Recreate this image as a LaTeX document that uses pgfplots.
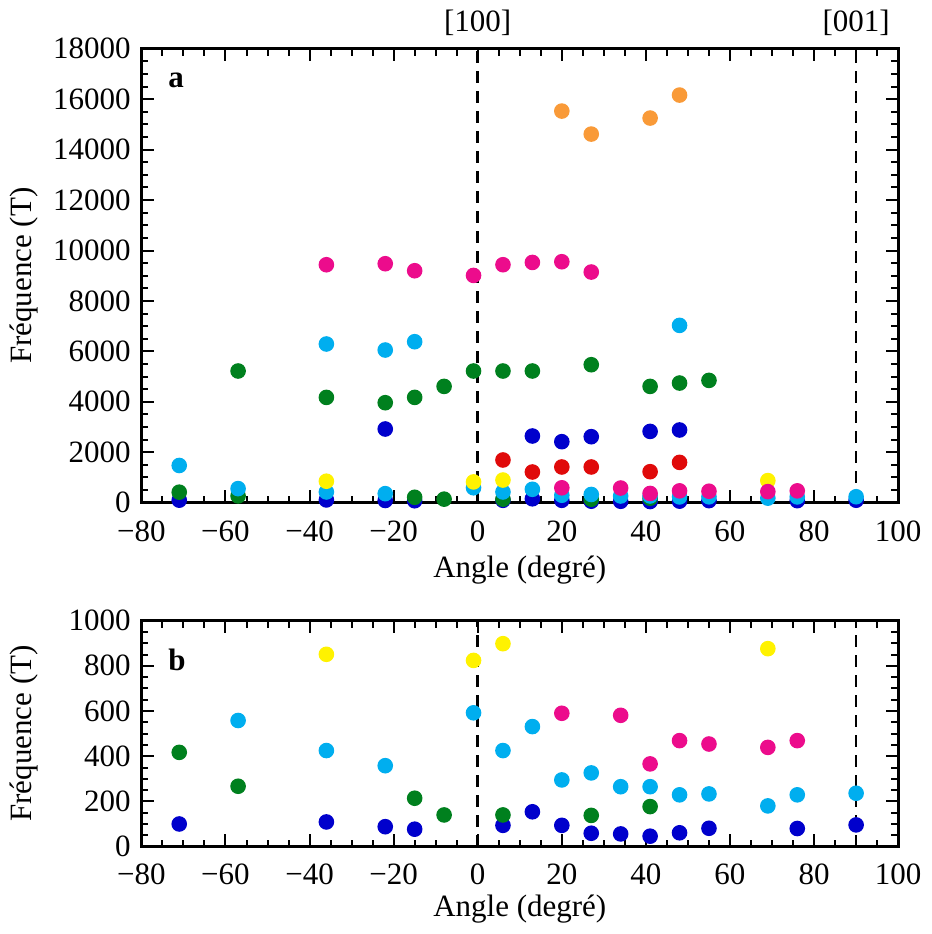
\documentclass[border=0pt]{standalone}
\usepackage{fontspec}
\setmainfont{Liberation Serif}
\usepackage{pgfplots}
\usepackage{pgfplotstable}
\pgfplotsset{compat=1.18}

\definecolor{cblue}{HTML}{0000CC}
\definecolor{cgreen}{HTML}{00801E}
\definecolor{ccyan}{HTML}{00AEEF}
\definecolor{cyellow}{HTML}{FFF200}
\definecolor{cred}{HTML}{E00A0A}
\definecolor{cpink}{HTML}{EC0C8C}
\definecolor{corange}{HTML}{F99A38}

\tikzset{dl/.style={line width=1.3pt, dash pattern=on 6pt off 4pt}}

\pgfplotstableread{
x y
-71 100
-36 109
-22 88
-22 2922
-15 77
6 94
13 154
13 2645
20 94
20 2419
27 59
27 2617
34 56
41 46
41 2827
48 61
48 2883
55 81
76 80
90 96
}\blueT
\pgfplotstableread{
x y
-71 417
-57 267
-57 5222
-36 4176
-22 3965
-15 214
-15 4176
-8 140
-8 4612
-1 5222
6 140
6 5222
13 5222
27 138
27 5472
41 177
41 4612
48 4745
55 4850
}\greenT
\pgfplotstableread{
x y
-71 1475
-57 558
-36 425
-36 6293
-22 358
-22 6054
-15 6384
-1 592
6 425
13 531
20 295
27 326
34 265
41 265
48 229
48 7031
55 233
69 180
76 229
90 236
}\cyanT
\pgfplotstableread{
x y
-36 851
-1 824
6 898
69 876
}\yellowT
\pgfplotstableread{
x y
6 1693
13 1217
20 1416
27 1416
41 1229
48 1598
}\redT
\pgfplotstableread{
x y
-36 9437
-22 9477
-15 9199
-1 9013
6 9437
13 9528
20 590
20 9556
27 9147
34 581
41 366
48 469
55 454
69 439
76 469
}\pinkT
\pgfplotstableread{
x y
20 15531
27 14619
41 15254
48 16166
}\orangeT

\pgfplotsset{
  myaxis/.style={
    scale only axis,
    width=378.5pt,
    xmin=-80, xmax=100,
    xtick={-80,-60,-40,-20,0,20,40,60,80,100},
    xticklabels={−80,−60,−40,−20,0,20,40,60,80,100},
    minor x tick num=3,
    minor y tick num=3,
    tick align=inside,
    axis line style={line width=1.5pt},
    every tick/.style={line width=1pt, black},
    major tick length=6.3pt,
    minor tick length=3.5pt,
    scaled ticks=false,
    /pgf/number format/1000 sep={},
    /pgf/number format/assume math mode=true,
    xticklabel style={yshift=-3.5pt},
    xlabel={Angle (degré)},
    ylabel={Fréquence (T)},
    ylabel style={at={(axis description cs:-0.1546,0.5)}, anchor=center},
  },
  pts/.style={only marks, mark=*, mark size=3.6pt, color=#1, mark options={solid, line width=0.6pt, draw=#1, fill=#1}},
}

\begin{document}
\fontsize{15.5pt}{18pt}\selectfont
\begin{tikzpicture}
\begin{axis}[myaxis, name=top,
  height=227pt,
  ymin=0, ymax=18000,
  ytick={0,2000,...,18000},
  clip=false,
  xlabel style={at={(axis description cs:0.5,0)}, anchor=center, yshift=-33.5pt},
]
\addplot[pts=cblue] table {\blueT};
\addplot[pts=cgreen] table {\greenT};
\addplot[pts=ccyan] table {\cyanT};
\addplot[pts=cyellow] table {\yellowT};
\addplot[pts=cred] table {\redT};
\addplot[pts=cpink] table {\pinkT};
\addplot[pts=corange] table {\orangeT};
\draw[dl] (axis cs:0,0) -- (axis cs:0,18000);
\draw[dl] (axis cs:90,0) -- (axis cs:90,18000);
\node[font=\bfseries] at (rel axis cs:0.046,0.93) {a};
\node[anchor=base, yshift=8.5pt] at (axis cs:0,18000) {[100]};
\node[anchor=base, yshift=8.5pt] at (axis cs:90,18000) {[001]};
\end{axis}
\begin{axis}[myaxis,
  at={(top.south west)}, anchor=north west, yshift=-59pt,
  height=113pt,
  ymin=0, ymax=1000,
  ytick={0,200,...,1000},
  xlabel style={at={(axis description cs:0.5,0)}, anchor=center, yshift=-31.5pt},
]
\addplot[pts=cblue] table {\blueT};
\addplot[pts=cgreen] table {\greenT};
\addplot[pts=ccyan] table {\cyanT};
\addplot[pts=cyellow] table {\yellowT};
\addplot[pts=cred] table {\redT};
\addplot[pts=cpink] table {\pinkT};
\addplot[pts=corange] table {\orangeT};
\draw[dl] (axis cs:0,0) -- (axis cs:0,1000);
\draw[dl] (axis cs:90,0) -- (axis cs:90,1000);
\node[font=\bfseries] at (rel axis cs:0.047,0.827) {b};
\end{axis}
\end{tikzpicture}
\end{document}
